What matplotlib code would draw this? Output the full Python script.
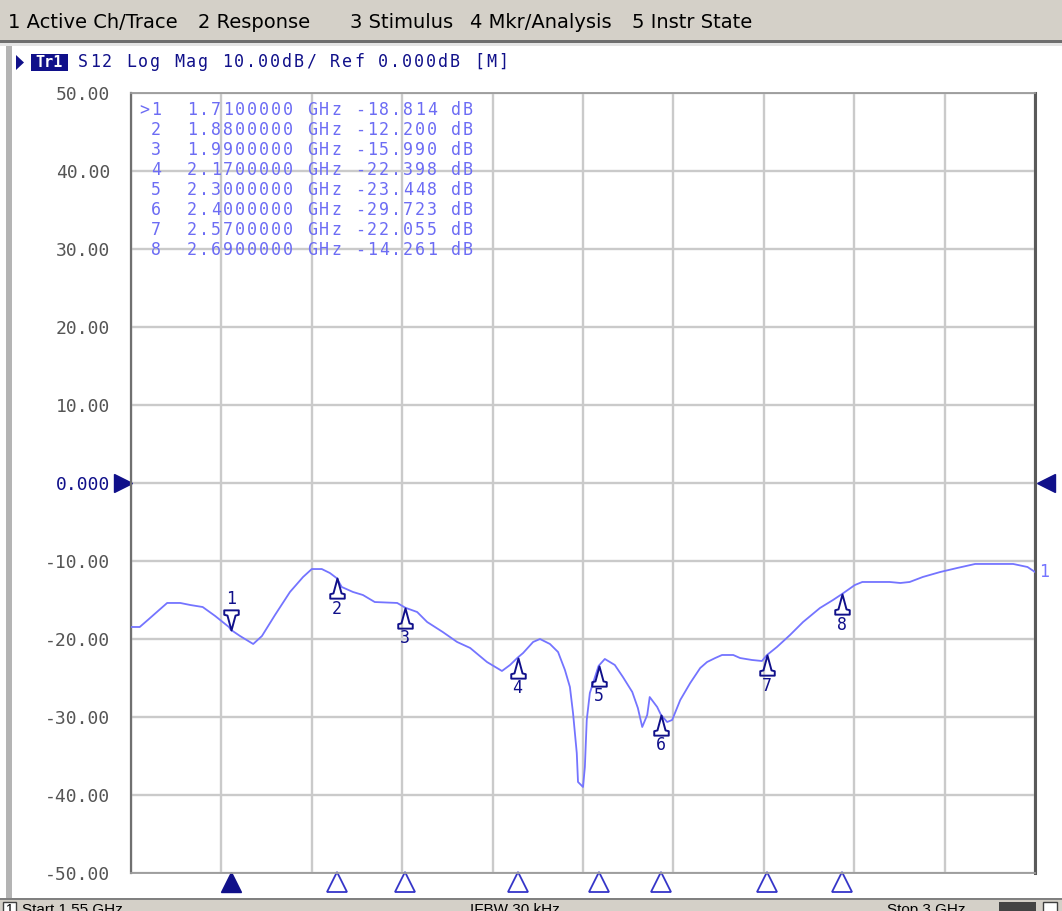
# S12 Log Mag trace, network analyzer screen
import numpy as np
import matplotlib.pyplot as plt
from matplotlib.patches import Rectangle, Polygon
from matplotlib.path import Path
import matplotlib.transforms as mtransforms

# ---- data ----
freq_ghz = [1.550, 1.564, 1.577, 1.597, 1.608, 1.629, 1.645, 1.665, 1.685, 1.707,
            1.710, 1.725, 1.746, 1.760, 1.781, 1.805, 1.826, 1.840, 1.856, 1.869,
            1.880, 1.888, 1.906, 1.922, 1.941, 1.977, 1.990, 2.009, 2.025, 2.050,
            2.073, 2.094, 2.121, 2.145, 2.158, 2.170, 2.179, 2.195, 2.206, 2.222,
            2.235, 2.246, 2.254, 2.259, 2.265, 2.267, 2.275, 2.278, 2.281, 2.286,
            2.300, 2.310, 2.326, 2.339, 2.354, 2.363, 2.370, 2.378, 2.382, 2.394,
            2.400, 2.410, 2.418, 2.431, 2.447, 2.463, 2.474, 2.487, 2.498, 2.516,
            2.527, 2.546, 2.562, 2.570, 2.586, 2.607, 2.628, 2.655, 2.676, 2.690,
            2.711, 2.723, 2.767, 2.784, 2.799, 2.820, 2.848, 2.875, 2.904, 2.965,
            2.988, 3.000]
s12_db = [-18.46, -18.46, -17.56, -16.15, -15.38, -15.38, -15.64, -15.90, -17.05, -18.46,
          -18.81, -19.62, -20.64, -19.62, -16.92, -13.97, -12.05, -11.03, -11.03, -11.54,
          -12.20, -13.33, -13.97, -14.36, -15.26, -15.38, -15.99, -16.54, -17.82, -19.10,
          -20.38, -21.15, -22.95, -24.10, -23.33, -22.40, -21.79, -20.38, -20.00, -20.64,
          -21.67, -23.97, -26.15, -29.49, -34.62, -38.33, -38.97, -36.41, -30.38, -26.92,
          -23.45, -22.56, -23.33, -24.87, -26.79, -28.85, -31.28, -29.74, -27.44, -28.72,
          -29.72, -30.64, -30.38, -27.82, -25.64, -23.72, -22.95, -22.44, -22.05, -22.05,
          -22.44, -22.69, -22.82, -22.06, -21.03, -19.49, -17.82, -16.03, -15.00, -14.26,
          -13.08, -12.69, -12.69, -12.82, -12.69, -12.05, -11.41, -10.90, -10.38, -10.38,
          -10.77, -11.41]

marker_no = [1, 2, 3, 4, 5, 6, 7, 8]
marker_freq = [1.71, 1.88, 1.99, 2.17, 2.30, 2.40, 2.57, 2.69]
marker_db = [-18.814, -12.200, -15.990, -22.398, -23.448, -29.723, -22.055, -14.261]

y_ticks = [-50, -40, -30, -20, -10, 0, 10, 20, 30, 40, 50]
y_tick_labels = ['-50.00', '-40.00', '-30.00', '-20.00', '-10.00', '0.000',
                 '10.00', '20.00', '30.00', '40.00', '50.00']
menu_items = ['1 Active Ch/Trace', '2 Response', '3 Stimulus', '4 Mkr/Analysis', '5 Instr State']
title_text = 'S12 Log Mag 10.00dB/ Ref 0.000dB [M]'

# ---- colours ----
TRACE = '#7474ff'
NAVY = '#10108a'
LIST_C = '#6c6cf4'
GRID = '#cacaca'
WIN = '#d4d0c8'

W, H = 1062, 911


def fx(x):
    return x / W


def fy(y):
    return 1 - y / H


fig = plt.figure(figsize=(W / 100, H / 100), dpi=100)
fig.patch.set_facecolor('white')


def mono_text(x, y, s, color, pitch=12, size=12, **kw):
    # fixed pitch text like the instrument font
    for i, ch in enumerate(s):
        if ch != ' ':
            fig.text(fx(x + i * pitch + pitch / 2), fy(y), ch, ha='center', va='center',
                     color=color, fontsize=size, family='DejaVu Sans Mono', **kw)


def rect(x0, y0, x1, y1, **kw):
    fig.add_artist(Rectangle((fx(x0), fy(y1)), (x1 - x0) / W, (y1 - y0) / H,
                             transform=fig.transFigure, **kw))


# ---- window chrome ----
rect(0, 0, W, 40, facecolor=WIN, edgecolor='none')
rect(0, 40, W, 43, facecolor='#6e6e6e', edgecolor='none')
rect(0, 43, W, 46, facecolor='#e4e4e4', edgecolor='none')
rect(6, 46, 12, 899, facecolor='#b4b4b4', edgecolor='none')
rect(0, 899, W, H, facecolor=WIN, edgecolor='none')
rect(0, 898, W, 900, facecolor='#808080', edgecolor='none')

menu_x = [8, 198, 350, 470, 632]
for mx, item in zip(menu_x, menu_items):
    fig.text(fx(mx), fy(22), item, ha='left', va='center', fontsize=14,
             family='DejaVu Sans', color='black')

# status bar (cut off at bottom, as on the screen)
rect(3, 902, 16, 913, facecolor='white', edgecolor='#404040', lw=1)
fig.text(fx(6), fy(903), '1', ha='left', va='top', fontsize=10, family='Liberation Sans')
fig.text(fx(22), fy(903), 'Start 1.55 GHz', ha='left', va='top', fontsize=11, family='Liberation Sans')
fig.text(fx(470), fy(903), 'IFBW 30 kHz', ha='left', va='top', fontsize=11, family='Liberation Sans')
fig.text(fx(887), fy(903), 'Stop 3 GHz', ha='left', va='top', fontsize=11, family='Liberation Sans')
rect(999, 902, 1036, 913, facecolor='#444444', edgecolor='none')
rect(1043, 902, 1057, 913, facecolor='white', edgecolor='#404040', lw=1)

# title line
fig.add_artist(Polygon([[fx(16), fy(55)], [fx(16), fy(70)], [fx(24), fy(62.5)]],
                       closed=True, transform=fig.transFigure, facecolor=NAVY, edgecolor='none'))
rect(31, 54, 68, 71, facecolor=NAVY, edgecolor='none')
fig.text(fx(49.5), fy(62.5), 'Tr1', ha='center', va='center', color='white', fontsize=11,
         family='DejaVu Sans Mono', fontweight='bold')
mono_text(77, 62, title_text, NAVY, pitch=12, size=12)

# ---- plot area ----
ax = fig.add_axes([fx(131), fy(873), (1035 - 131) / W, (873 - 93) / H])
ax.set_xlim(1.55, 3.0)
ax.set_ylim(-50, 50)
ax.set_xticks(np.linspace(1.55, 3.0, 11))
ax.set_xticklabels([])
ax.set_yticks(y_ticks)
ax.set_yticklabels(y_tick_labels, family='DejaVu Sans Mono', fontsize=13, color='#555555')
ax.get_yticklabels()[5].set_color(NAVY)
ax.tick_params(length=0, pad=15)
ax.grid(True, color=GRID, linewidth=1.7)
ax.set_axisbelow(True)
for side in ['top', 'bottom']:
    ax.spines[side].set_color('#9a9a9a')
    ax.spines[side].set_linewidth(1.3)
ax.spines['left'].set_color('#707070')
ax.spines['left'].set_linewidth(1.6)
ax.spines['right'].set_color('#5a5a5a')
ax.spines['right'].set_linewidth(2.2)

ax.plot(freq_ghz, s12_db, color=TRACE, linewidth=1.3, zorder=3)

# reference level arrows
ref_tr = mtransforms.blended_transform_factory(ax.transAxes, ax.transData)
ax.plot([-0.0088], [0], marker='>', ms=13, color=NAVY, transform=ref_tr, clip_on=False)
ax.plot([1.012], [0], marker='<', ms=13, color=NAVY, transform=ref_tr, clip_on=False)

# trace number at right end
ax.annotate('1', xy=(freq_ghz[-1], s12_db[-1]), xytext=(3, 0), textcoords='offset points',
            ha='left', va='center', color=TRACE, fontsize=12, family='DejaVu Sans Mono',
            annotation_clip=False)

# marker symbols
up_path = Path([(0, 0), (-0.2, -0.74), (-0.36, -0.78), (-0.36, -1.0), (0.36, -1.0),
                (0.36, -0.78), (0.2, -0.74), (0, 0)], closed=True)
down_path = Path([(0, 0), (-0.2, 0.74), (-0.36, 0.78), (-0.36, 1.0), (0.36, 1.0),
                  (0.36, 0.78), (0.2, 0.74), (0, 0)], closed=True)
for n, f, d in zip(marker_no, marker_freq, marker_db):
    if n == 1:
        ax.plot(f, d, marker=down_path, ms=29, mfc='none', mec=NAVY, mew=1.4, zorder=4)
        ax.annotate(str(n), xy=(f, d), xytext=(0, 22), textcoords='offset points',
                    ha='center', va='center', color=NAVY, fontsize=12, family='DejaVu Sans Mono')
    else:
        ax.plot(f, d, marker=up_path, ms=29, mfc='none', mec=NAVY, mew=1.4, zorder=4)
        ax.annotate(str(n), xy=(f, d), xytext=(0, -22), textcoords='offset points',
                    ha='center', va='center', color=NAVY, fontsize=12, family='DejaVu Sans Mono')

# marker position triangles under the grid
bot_tr = mtransforms.blended_transform_factory(ax.transData, ax.transAxes)
for n, f in zip(marker_no, marker_freq):
    if n == 1:
        ax.plot([f], [-0.0115], marker='^', ms=15, mfc=NAVY, mec=NAVY, transform=bot_tr, clip_on=False)
    else:
        ax.plot([f], [-0.0115], marker='^', ms=15, mfc='white', mec='#3535c8', mew=1.3,
                transform=bot_tr, clip_on=False)

# marker list
for i, (n, f, d) in enumerate(zip(marker_no, marker_freq, marker_db)):
    line = '%s%d  %.7f GHz %.3f dB' % ('>' if n == 1 else ' ', n, f, d)
    mono_text(138, 110 + 20 * i, line, LIST_C, pitch=12, size=12)

fig.savefig('out.png', dpi=100, facecolor=fig.get_facecolor())
